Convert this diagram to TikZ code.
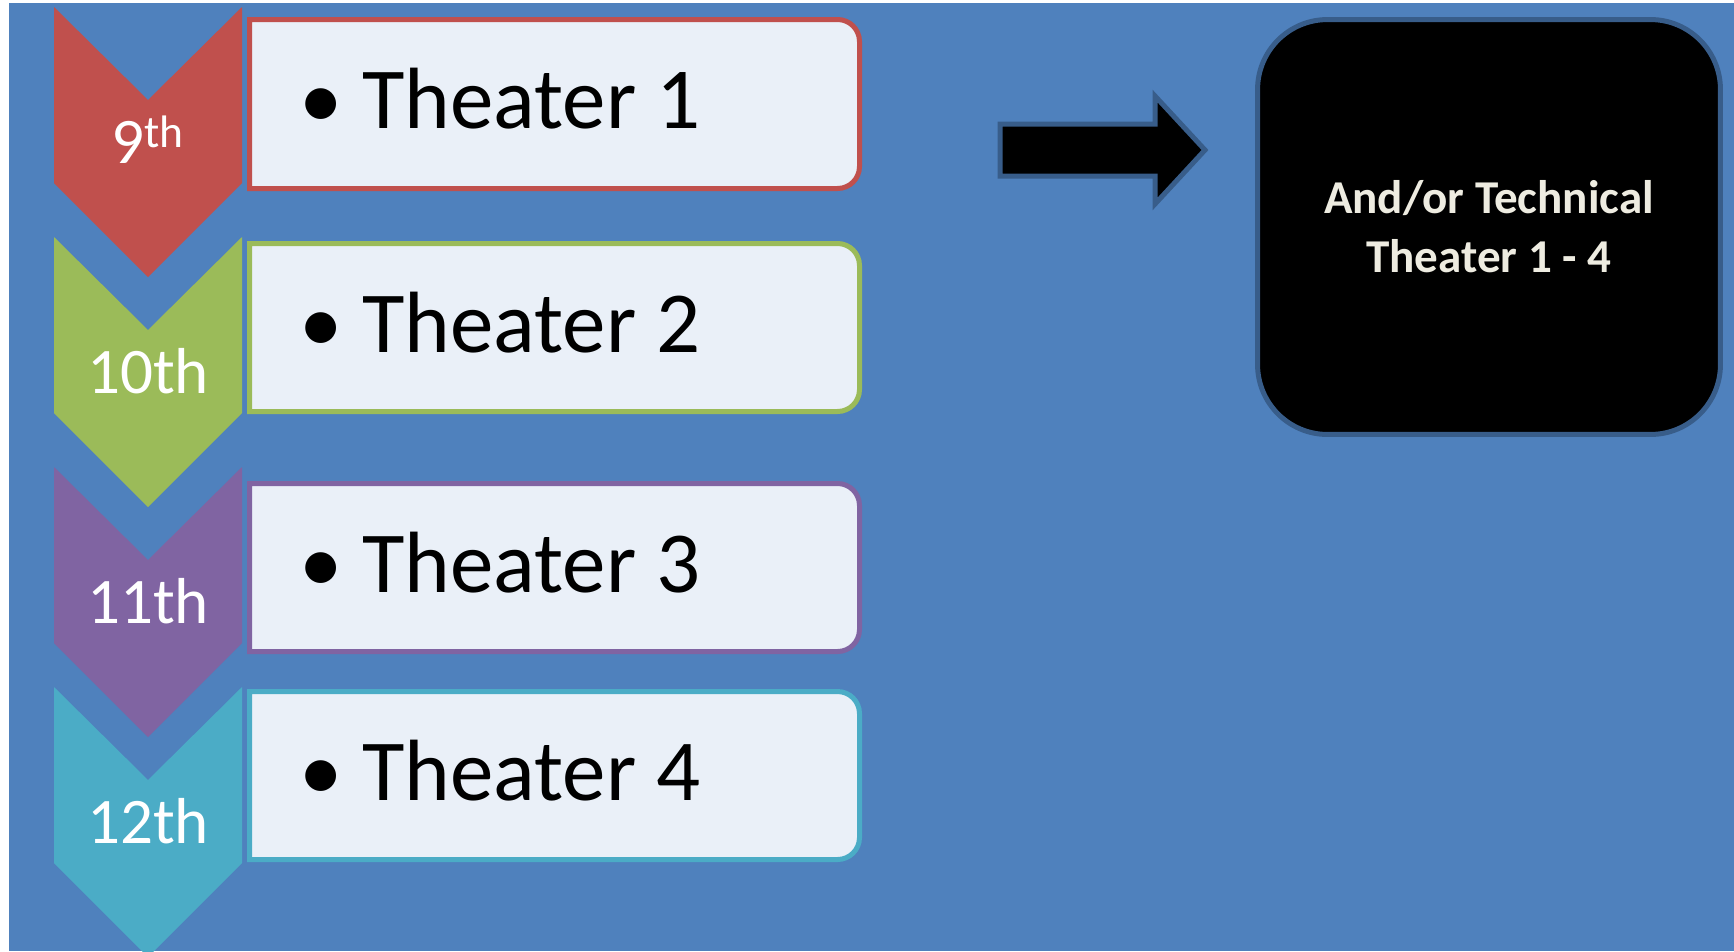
\documentclass[tikz,border=0pt]{standalone}
\usepackage{fontspec}
\setmainfont{Carlito}
\definecolor{slideblue}{HTML}{4F81BD}
\definecolor{gradered}{HTML}{C0504D}
\definecolor{gradegreen}{HTML}{9BBB59}
\definecolor{gradepurple}{HTML}{8064A2}
\definecolor{gradeteal}{HTML}{4BACC6}
\definecolor{edgeblue}{HTML}{385D8A}
\definecolor{boxfill}{HTML}{EAF0F8}
\definecolor{offwhite}{HTML}{EEECE1}
\begin{document}
\begin{tikzpicture}[x=0.02cm,y=-0.02cm,
    gradelabel/.style={text=white,inner sep=0pt,anchor=base,font=\fontsize{37}{44}\selectfont},
    itembox/.style={line width=0.1cm,fill=boxfill},
    itemtext/.style={inner sep=0pt,anchor=base west,font=\fontsize{49.5}{59}\selectfont}]
    \useasboundingbox (0,0) rectangle (1734,951);
    \clip (0,0) rectangle (1734,951);
    \fill[white] (0,0) rectangle (1734,951);
    \fill[slideblue] (9,3) rectangle (1734,951);
    % grade chevrons
    \fill[gradered] (54,7) -- (148,100) -- (242,7) -- (242,183) -- (148,277) -- (54,183) -- cycle;
    \fill[gradegreen] (54,237) -- (148,330) -- (242,237) -- (242,413) -- (148,507) -- (54,413) -- cycle;
    \fill[gradepurple] (54,467) -- (148,560) -- (242,467) -- (242,643) -- (148,737) -- (54,643) -- cycle;
    \fill[gradeteal] (54,687) -- (148,780) -- (242,687) -- (242,863) -- (148,957) -- (54,863) -- cycle;
    \node[gradelabel] (grade9) at (148,163) {9\textsuperscript{th}};
    \node[gradelabel] (grade10) at (148,393) {10th};
    \node[gradelabel] (grade11) at (148,623) {11th};
    \node[gradelabel] (grade12) at (148,843) {12th};
    % course boxes
    \draw[itembox,draw=gradered] (249.5,19.5) -- (837.5,19.5) arc (270:360:22) -- (859.5,166.5) arc (0:90:22) -- (249.5,188.5) -- cycle;
    \draw[itembox,draw=gradegreen] (249.5,243.5) -- (837.5,243.5) arc (270:360:22) -- (859.5,389.5) arc (0:90:22) -- (249.5,411.5) -- cycle;
    \draw[itembox,draw=gradepurple] (249.5,483.5) -- (837.5,483.5) arc (270:360:22) -- (859.5,629.5) arc (0:90:22) -- (249.5,651.5) -- cycle;
    \draw[itembox,draw=gradeteal] (249.5,691.5) -- (837.5,691.5) arc (270:360:22) -- (859.5,837.5) arc (0:90:22) -- (249.5,859.5) -- cycle;
    \node[itemtext] (theater1) at (299,128) {• Theater 1};
    \node[itemtext] (theater2) at (299,352) {• Theater 2};
    \node[itemtext] (theater3) at (299,592) {• Theater 3};
    \node[itemtext] (theater4) at (299,800) {• Theater 4};
    % block arrow
    \draw[line width=0.1cm,draw=edgeblue,fill=black,line join=miter] (1000,124) -- (1155,124) -- (1155,96) -- (1205,150) -- (1155,204) -- (1155,176) -- (1000,176) -- cycle;
    \node[draw=edgeblue,line width=0.1cm,fill=black,rounded corners=1.4cm,minimum width=9.26cm,minimum height=8.3cm,
        text=offwhite,align=center,font=\bfseries\fontsize{26.8}{33.5}\selectfont] (techbox) at (1489,227) {And/or Technical\\Theater 1 - 4};
\end{tikzpicture}
\end{document}
